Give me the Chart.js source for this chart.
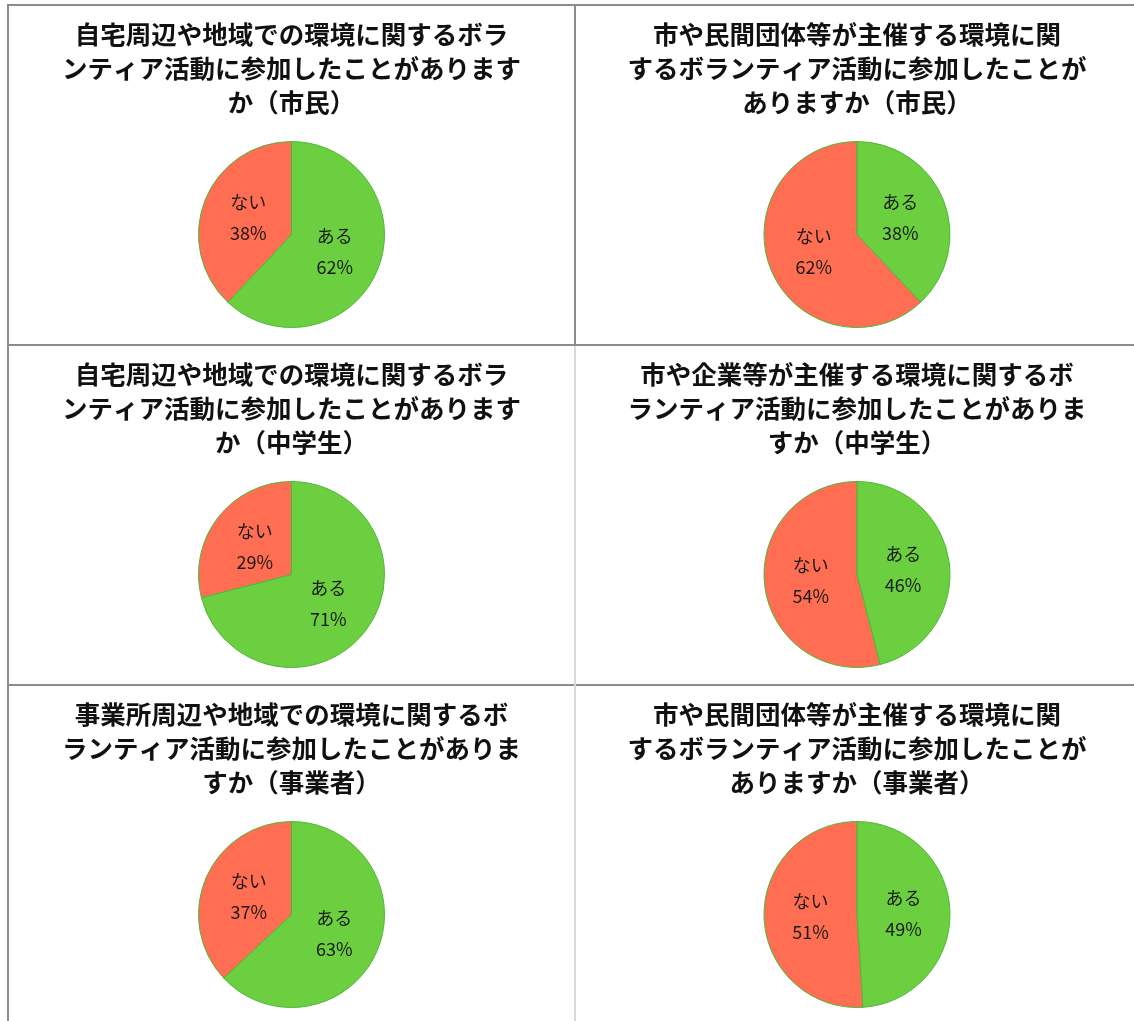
<!DOCTYPE html>
<html><head><meta charset="utf-8">
<script src="https://cdn.jsdelivr.net/npm/chart.js@4/dist/chart.umd.min.js"></script>
<style>
html,body{margin:0;padding:0;background:#fff;width:1134px;height:1021px;overflow:hidden;}
.cell{position:absolute;box-sizing:border-box;}
.cell canvas{display:block;}
.hline{position:absolute;height:2px;background:#8c8c8c;}
.vline{position:absolute;width:2px;}
</style></head>
<body>
<div id="wrap"></div>
<script>
// ---- data ----
const categories = ["ある", "ない"];
const titles = [
  ["自宅周辺や地域での環境に関するボラ", "ンティア活動に参加したことがあります", "か（市民）"],
  ["市や民間団体等が主催する環境に関", "するボランティア活動に参加したことが", "ありますか（市民）"],
  ["自宅周辺や地域での環境に関するボラ", "ンティア活動に参加したことがあります", "か（中学生）"],
  ["市や企業等が主催する環境に関するボ", "ランティア活動に参加したことがありま", "すか（中学生）"],
  ["事業所周辺や地域での環境に関するボ", "ランティア活動に参加したことがありま", "すか（事業者）"],
  ["市や民間団体等が主催する環境に関", "するボランティア活動に参加したことが", "ありますか（事業者）"]
];
const aruValues = [62, 38, 71, 46, 63, 49];
const naiValues = [38, 62, 29, 54, 37, 51];

const colors = ["#6CCF40", "#FF6E52"];

// ---- layout ----
const colX = [8, 575];
const colW = [567, 564];
const rowY = [5, 345, 685];
const rowH = 340;

const wrap = document.getElementById('wrap');
function line(cls, x, y, w, h, color) {
  const d = document.createElement('div');
  d.className = cls;
  d.style.left = x + 'px'; d.style.top = y + 'px';
  if (w) d.style.width = w + 'px';
  if (h) d.style.height = h + 'px';
  if (color) d.style.background = color;
  wrap.appendChild(d);
}
line('hline', 7, 4, 1127, 2);
line('hline', 7, 344, 1127, 2);
line('hline', 7, 684, 1127, 2);
line('vline', 7, 4, 0, 1017, '#8c8c8c');
line('vline', 574, 4, 0, 341, '#8c8c8c');
line('vline', 574, 346, 0, 675, '#d9d9d9');

const labelPlugin = {
  id: 'sliceLabels',
  afterDatasetsDraw(chart) {
    const ctx = chart.ctx;
    const meta = chart.getDatasetMeta(0);
    const data = chart.data.datasets[0].data;
    const total = data.reduce((a, b) => a + b, 0);
    ctx.save();
    ctx.fillStyle = '#1a1a1a';
    ctx.font = '18px "Noto Sans CJK JP", "Noto Sans", sans-serif';
    ctx.textAlign = 'center';
    ctx.textBaseline = 'middle';
    meta.data.forEach((arc, i) => {
      const p = arc.getProps(['x', 'y', 'startAngle', 'endAngle', 'outerRadius']);
      const mid = (p.startAngle + p.endAngle) / 2;
      const r = p.outerRadius * 0.5;
      const cx = p.x + Math.cos(mid) * r;
      const cy = p.y + Math.sin(mid) * r;
      ctx.fillText(chart.data.labels[i], cx, cy - 15);
      ctx.fillText(Math.round(data[i] / total * 100) + '%', cx, cy + 16);
    });
    ctx.restore();
  }
};

for (let k = 0; k < 6; k++) {
  const r = Math.floor(k / 2), c = k % 2;
  const cell = document.createElement('div');
  cell.className = 'cell';
  cell.style.left = colX[c] + 'px';
  cell.style.top = rowY[r] + 'px';
  cell.style.width = colW[c] + 'px';
  cell.style.height = rowH + 'px';
  const cv = document.createElement('canvas');
  cell.appendChild(cv);
  wrap.appendChild(cell);
  new Chart(cv, {
    type: 'pie',
    data: {
      labels: categories,
      datasets: [{
        data: [aruValues[k], naiValues[k]],
        backgroundColor: colors,
        borderColor: '#4DB83A',
        borderWidth: 1
      }]
    },
    options: {
      responsive: true,
      maintainAspectRatio: false,
      animation: false,
      layout: { padding: { top: 0, bottom: 17, left: 0, right: 0 } },
      plugins: {
        legend: { display: false },
        tooltip: { enabled: false },
        title: {
          display: true,
          text: titles[k],
          color: '#111',
          font: { family: '"Noto Sans CJK JP", "Noto Sans", sans-serif', size: 25.5, weight: 'bold', lineHeight: '34px' },
          padding: { top: 12, bottom: 22 }
        }
      }
    },
    plugins: [labelPlugin]
  });
}
</script>
</body></html>
